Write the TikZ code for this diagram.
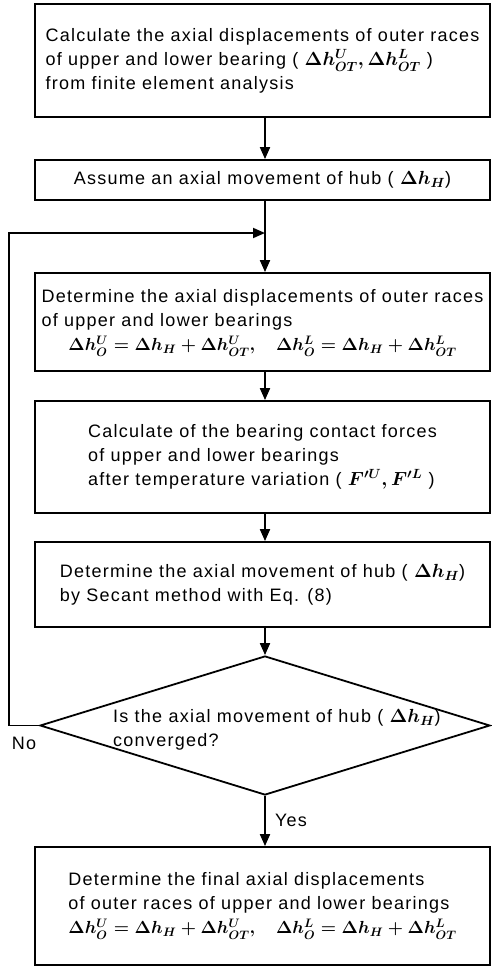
\RequirePackage{fix-cm}
\documentclass[tikz,border=0pt]{standalone}
\usepackage{fontspec}
\setmainfont{Liberation Sans}[LetterSpace=7]
\usetikzlibrary{arrows.meta,shapes.geometric}
\tikzset{
  box/.style={draw, line width=1.8pt, minimum width=455pt, inner sep=0pt, align=left, font=\fontsize{18}{24}\selectfont},
  txt/.style={font=\fontsize{18}{24}\selectfont, align=left, inner sep=0pt},
  arr/.style={line width=1.8pt, -{Triangle[length=12pt,width=10pt]}},
  lbl/.style={font=\fontsize{18}{24}\selectfont, inner sep=0pt},
}
\newcommand{\mth}[1]{{\fontsize{19}{24}\selectfont\boldmath$#1$}}
\newcommand{\eqline}{{\fontsize{17.5}{24}\selectfont\boldmath$\Delta h^{U}_{O} = \Delta h_{H} + \Delta h^{U}_{OT},\quad \Delta h^{L}_{O} = \Delta h_{H} + \Delta h^{L}_{OT}$}}
\begin{document}
\begin{tikzpicture}[x=1pt,y=-1pt]
\useasboundingbox (0,0) rectangle (491,967);
\coordinate (sp) at (265,0);
\node[box, minimum height=113pt] (b1) at (262.5,60.5)
  {Calculate the axial displacements of outer races\\
   of upper and lower bearing ( \mth{\Delta h^{U}_{OT}, \Delta h^{L}_{OT}} )\\
   from finite element analysis};
\node[box, minimum height=40pt] (b2) at (262.5,180)
  {Assume an axial movement of hub ( \mth{\Delta h_{H}})};
\node[box, minimum height=98pt] (b3) at (262.5,322)
  {\begin{tabular}{@{}l@{}}Determine the axial displacements of outer races\\
   of upper and lower bearings\\
   \multicolumn{1}{@{}c@{}}{\eqline}\end{tabular}};
\node[box, minimum height=112pt] (b4) at (262.5,457)
  {Calculate of the bearing contact forces\\
   of upper and lower bearings\\
   after temperature variation ( \mth{F'^{U}, F'^{L}} )};
\node[box, minimum height=85pt] (b5) at (262.5,584.5)
  {Determine the axial movement of hub ( \mth{\Delta h_{H}})\\
   by Secant method with Eq. (8)};
\node[draw, diamond, line width=1.8pt, minimum width=450pt, minimum height=139pt, inner sep=0pt] (d) at (265,725.5) {};
\node[txt, anchor=west] (dt) at (113,730)
  {Is the axial movement of hub ( \mth{\Delta h_{H}})\\ converged?};
\node[box, minimum height=118pt] (b6) at (262.5,906)
  {Determine the final axial displacements\\
   of outer races of upper and lower bearings\\
   \eqline};
\coordinate (j) at (265,233);
\draw[arr] (b1.south -| sp) -- (b2.north -| sp);
\draw[arr] (b2.south -| sp) -- (b3.north -| sp);
\draw[arr] (b3.south -| sp) -- (b4.north -| sp);
\draw[arr] (b4.south -| sp) -- (b5.north -| sp);
\draw[arr] (b5.south -| sp) -- (d.north);
\draw[arr] (d.south) -- (b6.north -| sp);
\draw[arr] (d.west) -- ++(-30,0) |- (j);
\node[lbl] (no) at (24,743) {No};
\node[lbl] (yes) at (291,820) {Yes};
\end{tikzpicture}
\end{document}
